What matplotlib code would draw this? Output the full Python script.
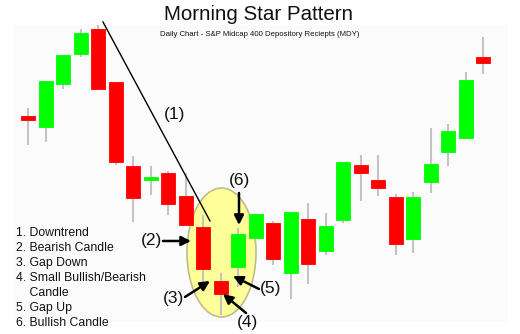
import matplotlib
matplotlib.use("Agg")
import matplotlib.pyplot as plt
from matplotlib.patches import Ellipse, Rectangle

plt.rcParams['font.family'] = ['Liberation Sans', 'DejaVu Sans']

W, H = 520, 334

# candle data, price units
opens  = [218, 207, 250, 280, 305, 252, 168, 154, 161, 138, 107, 53, 67, 96, 111, 61,
          115, 83, 114, 169, 154, 137, 95, 152, 182, 196, 277]
closes = [214, 253, 279, 301, 245, 172, 136, 156, 130, 109, 65, 40, 100, 120, 75, 122,
          70, 108, 172, 161, 146, 90, 137, 170, 203, 254, 271]
highs  = [226, 253, 279, 305, 309, 252, 178, 168, 163, 161, 119, 61, 106, 120, 113, 122,
          131, 121, 172, 179, 179, 140, 142, 206, 210, 262, 297]
lows   = [189, 192, 245, 277, 245, 169, 112, 139, 119, 109, 52, 19, 47, 96, 69, 35,
          50, 79, 111, 133, 138, 79, 81, 141, 168, 196, 260]

legend_lines = ["1. Downtrend", "2. Bearish Candle", "3. Gap Down",
                "4. Small Bullish/Bearish", "    Candle", "5. Gap Up", "6. Bullish Candle"]

UP = '#00ff00'
DOWN = '#ff0000'
WICK = '#c4c4c4'

# pixel -> data helpers (x: candle index, y: price)
X0, DX = 28.0, 17.5
def px(x):
    return (x - X0) / DX
def py(y):
    return H - y

fig = plt.figure(figsize=(W / 100, H / 100), dpi=100)
ax = fig.add_axes([0, 0, 1, 1])
ax.set_xlim(px(0), px(W))
ax.set_ylim(0, H)
ax.axis('off')

# faint chart background
ax.add_patch(Rectangle((px(13), py(322)), px(508) - px(13), 322 - 25,
                       facecolor='#fbfbfb', edgecolor='none', zorder=0))

# highlight ellipse
ax.add_patch(Ellipse((px(221.5), py(252.5)), 69 / DX, 129,
                     facecolor='#ffff99', edgecolor='#bdbd8a', lw=1.2, zorder=1))

# candles
bw = 0.8
for i in range(len(opens)):
    o, c, hi, lo = opens[i], closes[i], highs[i], lows[i]
    col = UP if c >= o else DOWN
    ax.plot([i, i], [lo, hi], color=WICK, lw=1.5, zorder=2, solid_capstyle='butt')
    bottom = min(o, c)
    h = max(abs(c - o), 3)
    ax.add_patch(Rectangle((i - bw / 2, bottom), bw, h, facecolor=col,
                           edgecolor=col, lw=0.6, zorder=3))

# trend line
ax.plot([px(103), px(210)], [py(22), py(221)], color='black', lw=1, zorder=4)

# titles
fig.text(259 / W, 1 - 15 / H, "Morning Star Pattern", ha='center', va='center',
         fontsize=14.8, color='#111111')
fig.text(260 / W, 1 - 35 / H, "Daily Chart - S&P Midcap 400 Depository Reciepts (MDY)",
         ha='center', va='center', fontsize=5.6, color='#111111')

# legend text
for k, line in enumerate(legend_lines):
    fig.text(16 / W, 1 - (233 + 15 * k) / H, line, ha='left', va='center',
             fontsize=8.8, color='#111111')

# labels and arrows
ap = dict(arrowstyle='-|>', lw=1.8, color='black', mutation_scale=14, shrinkA=0, shrinkB=0)
lab = dict(fontsize=12.5, ha='center', va='center', color='#111111', zorder=6)
ax.text(px(175), py(115), "(1)", **lab)
ax.text(px(151), py(241), "(2)", **lab)
ax.annotate("", xy=(px(191), py(241)), xytext=(px(163), py(241)), arrowprops=ap, zorder=6)
ax.text(px(174), py(298), "(3)", **lab)
ax.annotate("", xy=(px(210), py(281)), xytext=(px(185), py(297)), arrowprops=ap, zorder=6)
ax.text(px(248), py(322), "(4)", **lab)
ax.annotate("", xy=(px(223), py(294)), xytext=(px(246), py(313)), arrowprops=ap, zorder=6)
ax.text(px(271), py(289), "(5)", **lab)
ax.annotate("", xy=(px(233), py(276)), xytext=(px(259), py(289)), arrowprops=ap, zorder=6)
ax.text(px(239), py(180), "(6)", **lab)
ax.annotate("", xy=(px(239), py(225)), xytext=(px(239), py(193)), arrowprops=ap, zorder=6)

fig.savefig("out.png", dpi=100)
